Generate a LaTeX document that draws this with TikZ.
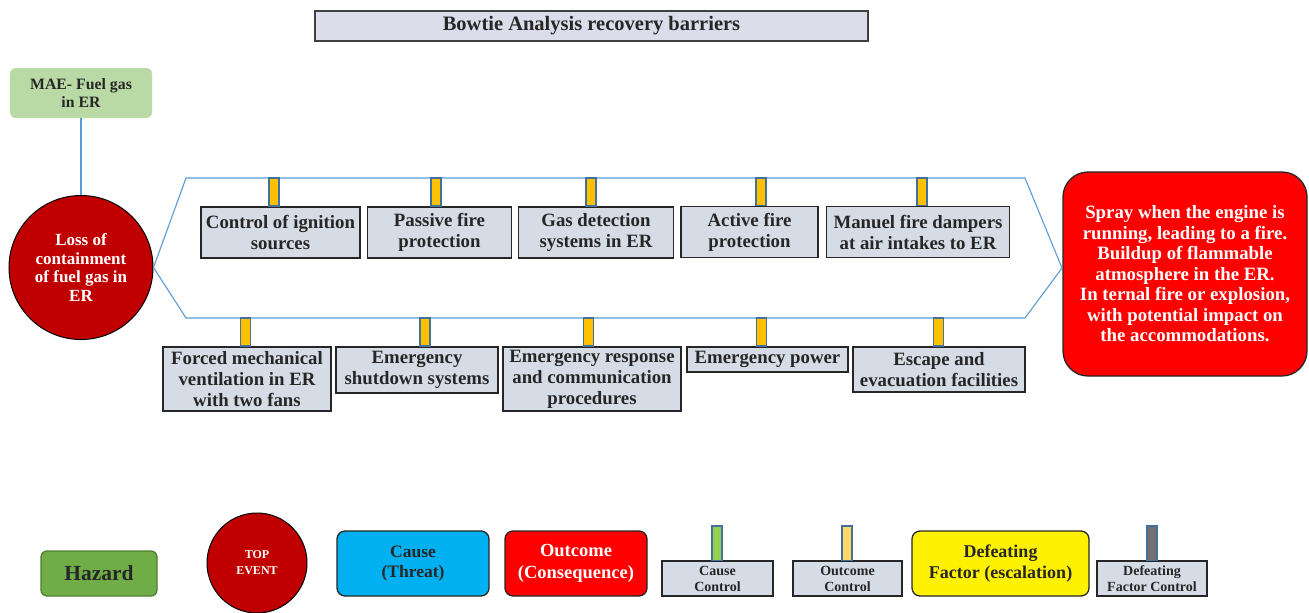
\documentclass[tikz,border=0pt]{standalone}
\usepackage{fontspec}
\setmainfont{Liberation Serif}
\usetikzlibrary{calc}
\definecolor{barfill}{HTML}{D6DCE5}
\definecolor{stubfill}{HTML}{FFC000}
\definecolor{stubline}{HTML}{41719C}
\definecolor{tieline}{HTML}{5B9BD5}
\definecolor{topred}{HTML}{C00000}
\definecolor{darktext}{HTML}{262626}
\definecolor{titlefill}{HTML}{DCDCEB}
\definecolor{maefill}{HTML}{B9D9A5}
\definecolor{hazfill}{HTML}{70AD47}
\definecolor{hazline}{HTML}{507E32}
\definecolor{causefill}{HTML}{00B0F0}
\definecolor{causestub}{HTML}{92D050}
\definecolor{outstub}{HTML}{FFD966}
\definecolor{defstub}{HTML}{767171}

\begin{document}
\begin{tikzpicture}[x=1pt,y=-1pt,
    barrier/.style={draw=darktext,line width=1.8pt,fill=barfill,align=center,text=darktext,
        inner sep=0pt,font=\bfseries\fontsize{18.8}{21}\selectfont},
    smallbarrier/.style={barrier,line width=1.4pt,font=\bfseries\fontsize{14}{16}\selectfont},
    stub/.style={draw=stubline,fill=stubfill,line width=1.3pt},
    legendbox/.style={draw=darktext,line width=1.3pt,rounded corners=8pt,align=center,inner sep=0pt,
        minimum height=65},
    tie/.style={draw=tieline,line width=1.1pt}]
    \useasboundingbox (0,0) rectangle (1309,613);

    \node[draw=black!75,line width=1.3pt,fill=titlefill,minimum width=553,minimum height=30,
        font=\bfseries\fontsize{20.5}{22}\selectfont,text=darktext] (title) at (591.5,26)
        {Bowtie Analysis recovery barriers};

    \node[fill=maefill,draw=maefill!80!white,rounded corners=6pt,minimum width=142,minimum height=50,
        align=center,inner sep=0pt,text=darktext,font=\bfseries\fontsize{15.8}{18}\selectfont] (MAE) at (81,93)
        {MAE- Fuel gas\\in ER};
    \node[circle,draw=black,line width=1pt,fill=topred,minimum size=144,inner sep=0pt,align=center,
        text=white,font=\bfseries\fontsize{17}{18.5}\selectfont] (L) at (81,267.5)
        {Loss of\\containment\\of fuel gas in\\ER};
    \draw[tie] (MAE.south) -- (L.north);

    \node[draw=darktext,line width=1.3pt,fill=red,rounded corners=25pt,minimum width=244,minimum height=204,
        align=center,inner sep=0pt,text=white,font=\bfseries\fontsize{18.8}{20.5}\selectfont] (R) at (1185,274)
        {Spray when the engine is\\running, leading to a fire.\\Buildup of flammable\\atmosphere in the ER.\\
         In ternal fire or explosion,\\with potential impact on\\the accommodations.};

    \coordinate (tl) at (186,178);
    \coordinate (tr) at (1025,178);
    \coordinate (tip) at (1062,268);
    \coordinate (br) at (1025,318);
    \coordinate (bl) at (186,318);
    \draw[tie] (L.east) -- (tl) -- (tr) -- (tip) -- (br) -- (bl) -- cycle;

    \node[barrier,minimum width=159,minimum height=51] (T1) at (280.5,232.5) {Control of ignition\\sources};
    \node[barrier,minimum width=144,minimum height=51] (T2) at (439.5,232.5) {Passive fire\\protection};
    \node[barrier,minimum width=155,minimum height=51] (T3) at (596,232.5) {Gas detection\\systems in ER};
    \node[barrier,minimum width=137,minimum height=51] (T4) at (749.5,232) {Active fire\\protection};
    \node[barrier,minimum width=183,minimum height=51] (T5) at (918,232) {Manuel fire dampers\\at air intakes to ER};

    \node[barrier,minimum width=168,minimum height=64] (B1) at (247,379) {Forced mechanical\\ventilation in ER\\with two fans};
    \node[barrier,minimum width=162,minimum height=46] (B2) at (417,370) {Emergency\\shutdown systems};
    \node[barrier,minimum width=178,minimum height=64] (B3) at (592,379) {Emergency response\\and communication\\procedures};
    \node[barrier,minimum width=161,minimum height=25] (B4) at (767.5,359.5) {Emergency power};
    \node[barrier,minimum width=172,minimum height=45] (B5) at (939,369.5) {Escape and\\evacuation facilities};

    \foreach \x/\n in {274/T1,436/T2,591/T3,761/T4,922/T5}
        \draw[stub] ({\x-5},178) rectangle ({\x+5},0 |- \n.north);
    \foreach \x/\n in {245.5/B1,425/B2,588.5/B3,761.5/B4,938.5/B5}
        \draw[stub] ({\x-5},318) rectangle ({\x+5},0 |- \n.north);

    \node[legendbox,draw=hazline,fill=hazfill,minimum width=116,minimum height=45,
        rounded corners=6pt,text=darktext,font=\bfseries\fontsize{21.5}{24}\selectfont] (haz) at (99,573.5) {Hazard};
    \node[circle,draw=black,line width=1pt,fill=topred,minimum size=100,inner sep=0pt,align=center,
        text=white,font=\bfseries\fontsize{12}{16}\selectfont] (top) at (257,563) {TOP\\EVENT};
    \node[legendbox,fill=causefill,minimum width=152,text=darktext,
        font=\bfseries\fontsize{17.5}{20}\selectfont] (cause) at (413,563.5) {Cause\\(Threat)};
    \node[legendbox,fill=red,minimum width=142,text=white,
        font=\bfseries\fontsize{18.5}{22}\selectfont] (out) at (576,563.5) {Outcome\\(Consequence)};
    \node[smallbarrier,minimum width=111,minimum height=35] (cc) at (717.5,578.5) {Cause\\Control};
    \node[smallbarrier,minimum width=109,minimum height=35] (oc) at (847.5,578.5) {Outcome\\Control};
    \node[legendbox,fill=yellow,minimum width=177,text=darktext,
        font=\bfseries\fontsize{18}{21}\selectfont] (def) at (1000.5,563.5) {Defeating\\Factor (escalation)};
    \node[smallbarrier,minimum width=110,minimum height=35] (dc) at (1152,578.5) {Defeating\\Factor Control};

    \draw[stub,fill=causestub] (712,526) rectangle (722,0 |- cc.north);
    \draw[stub,fill=outstub] (842,526) rectangle (852,0 |- oc.north);
    \draw[stub,fill=defstub] (1147,526) rectangle (1157,0 |- dc.north);
\end{tikzpicture}
\end{document}
